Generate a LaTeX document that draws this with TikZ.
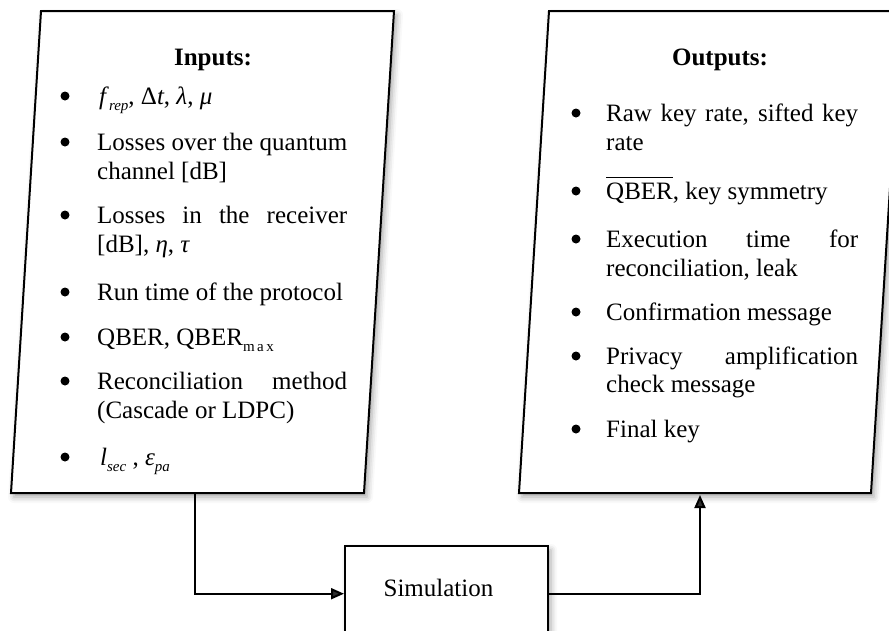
\documentclass[tikz,border=0pt]{standalone}
\usepackage{fontspec}
\setmainfont{Liberation Serif}
\usetikzlibrary{arrows.meta,shadows.blur}
% small lowered index text
\newcommand{\lowsub}[1]{\raisebox{-0.25em}{\fontsize{15}{15}\selectfont #1}}
% a justified line of given width
\newcommand{\just}[2]{\makebox[#1][s]{#2}}
\begin{document}
\begin{tikzpicture}[x=1pt,y=-1pt,
  frame/.style={line width=2pt, fill=white, line join=miter,
    blur shadow={shadow xshift=3pt, shadow yshift=-4pt, shadow blur radius=6pt, shadow opacity=35}},
  link/.style={line width=2pt, -{Triangle[length=13pt,width=11pt]}},
  txt/.style={anchor=base west, inner sep=0pt, font=\fontsize{25}{29}\selectfont},
  head/.style={anchor=base, inner sep=0pt, font=\fontsize{25}{29}\selectfont\bfseries},
  dot/.style={circle, fill=black, inner sep=0pt, minimum size=9pt}]

\useasboundingbox (0,0) rectangle (889,630);
\clip (0,0) rectangle (889,630);

% input panel
\draw[frame] (41,11) -- (394,11) -- (364,493) -- (11,493) -- cycle;
\coordinate (inbot) at (195,494);

% output panel
\draw[frame] (549,11) -- (901,11) -- (871,493) -- (519,493) -- cycle;
\coordinate (outbot) at (700,495);

% simulation block
\node[draw, line width=2pt, fill=white,
  blur shadow={shadow xshift=3pt, shadow yshift=-4pt, shadow blur radius=6pt, shadow opacity=35},
  minimum width=203pt, text height=50pt, text depth=70pt, inner sep=0pt,
  anchor=north, font=\fontsize{25}{29}\selectfont] (sim) at (446.5,545) {\hspace*{-16pt}Simulation};

% connectors
\draw[link] (inbot) |- (sim.mid west);
\draw[link] (sim.mid east) -| (outbot);

% input list
\node[head] (intitle) at (213,65) {Inputs:};
\node[dot] (ib1) at (65,96) {};
\node[dot] (ib2) at (65,142) {};
\node[dot] (ib3) at (65,215) {};
\node[dot] (ib4) at (65,292) {};
\node[dot] (ib5) at (65,337) {};
\node[dot] (ib6) at (65,381) {};
\node[dot] (ib7) at (65,457) {};

\node[txt] (i1) at (99,104) {\textit{f}\lowsub{\textit{rep}}, Δ\textit{t}, \textit{λ}, \textit{μ}};
\node[txt] (i2a) at (97,150) {\just{250pt}{Losses over the quantum}};
\node[txt] (i2b) at (97,179) {channel [dB]};
\node[txt] (i3a) at (97,223) {\just{250pt}{Losses in the receiver}};
\node[txt] (i3b) at (97,252) {[dB], \textit{η}, \textit{τ}};
\node[txt] (i4) at (97,300) {Run time of the protocol};
\node[txt] (i5) at (97,345) {QBER, QBER\lowsub{m\,a\,x}};
\node[txt] (i6a) at (97,389) {\just{250pt}{Reconciliation method}};
\node[txt] (i6b) at (97,418) {(Cascade or LDPC)};
\node[txt] (i7) at (100,465) {\textit{l}\lowsub{\textit{sec}} , \textit{ε}\lowsub{\textit{pa}}};

% output list
\node[head] (outtitle) at (720,65) {Outputs:};
\node[dot] (ob1) at (576,113) {};
\node[dot] (ob2) at (576,191) {};
\node[dot] (ob3) at (576,239) {};
\node[dot] (ob4) at (576,312) {};
\node[dot] (ob5) at (576,356) {};
\node[dot] (ob6) at (576,429) {};

\node[txt] (o1a) at (606,121) {\just{252pt}{Raw key rate, sifted key}};
\node[txt] (o1b) at (606,150) {rate};
\node[txt] (o2) at (606,199) {$\overline{\mbox{\rule{0pt}{20pt}QBER}}$, key symmetry};
\node[txt] (o3a) at (606,247) {\just{252pt}{Execution time for}};
\node[txt] (o3b) at (606,276) {reconciliation, leak};
\node[txt] (o4) at (606,320) {Confirmation message};
\node[txt] (o5a) at (606,364) {\just{252pt}{Privacy amplification}};
\node[txt] (o5b) at (606,392) {check message};
\node[txt] (o6) at (606,437) {Final key};
\end{tikzpicture}
\end{document}
